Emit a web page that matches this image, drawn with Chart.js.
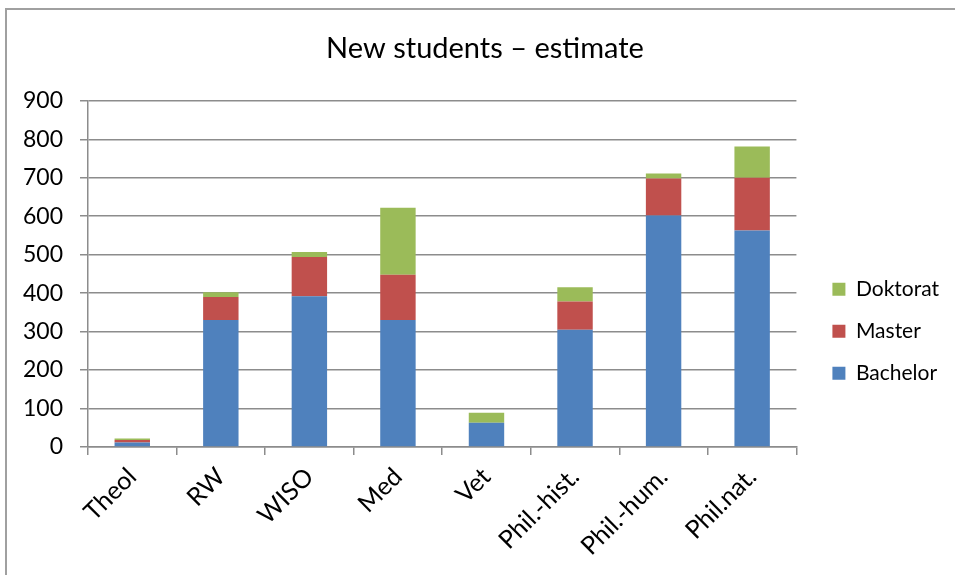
<!DOCTYPE html>
<html>
<head>
<meta charset="utf-8">
<title>New students – estimate</title>
<script src="https://cdn.jsdelivr.net/npm/chart.js@4"></script>
<style>
  body { margin: 0; background: #fff; }
  #frame {
    position: absolute; left: 5px; top: 8px; width: 960px; height: 580px;
    border: 2px solid #a0a0a0;
  }
  #chart { position: absolute; left: 0; top: 0; }
</style>
</head>
<body>
<div id="frame"></div>
<canvas id="chart" width="955" height="575"></canvas>

<script>
  // Werte
  const faculties = ['Theol', 'RW', 'WISO', 'Med', 'Vet', 'Phil.-hist.', 'Phil.-hum.', 'Phil.nat.'];
  const bachelor = [12, 330, 392, 330, 63, 305, 602, 563];
  const master = [6, 60, 102, 118, 0, 73, 96, 137];
  const doktorat = [4, 12, 13, 174, 26, 37, 13, 81];
  const yTicks = [0, 100, 200, 300, 400, 500, 600, 700, 800, 900];

  const gridColor = '#8c8c8c';
  const fontFamily = 'Lato, "Open Sans", sans-serif';

  const ctx = document.getElementById('chart').getContext('2d');
  const chart = new Chart(ctx, {
    type: 'bar',
    data: {
      labels: faculties,
      datasets: [
        { label: 'Bachelor', data: bachelor, backgroundColor: '#4f81bd' },
        { label: 'Master', data: master, backgroundColor: '#c0504d' },
        { label: 'Doktorat', data: doktorat, backgroundColor: '#9bbb59' }
      ]
    },
    options: {
      responsive: false,
      animation: false,
      layout: { padding: { left: 21, right: 6, top: 0, bottom: 0 } },
      datasets: { bar: { barPercentage: 0.8, categoryPercentage: 0.5 } },
      plugins: {
        title: {
          display: true,
          text: 'New students – estimate',
          color: '#000',
          font: { family: fontFamily, size: 29, weight: 'normal' },
          padding: { top: 31, bottom: 35 }
        },
        legend: {
          position: 'right',
          reverse: true,
          title: { display: true, text: '', padding: { top: 73 } },
          labels: {
            boxWidth: 13, boxHeight: 13, padding: 21,
            color: '#000',
            font: { family: fontFamily, size: 21 }
          }
        },
        tooltip: { enabled: false }
      },
      scales: {
        x: {
          stacked: true,
          grid: { display: true, drawOnChartArea: false, tickLength: 8, color: gridColor, lineWidth: 1.5 },
          border: { display: true, color: gridColor, width: 1.5 },
          ticks: {
            minRotation: 45, maxRotation: 45, autoSkip: false, padding: 7,
            color: '#000', font: { family: fontFamily, size: 25 }
          },
          afterFit(s) { s.height = 128; }
        },
        y: {
          stacked: true,
          min: 0,
          max: 900,
          afterBuildTicks(s) { s.ticks = yTicks.map(v => ({ value: v })); },
          grid: { color: gridColor, lineWidth: 1.5, tickLength: 8 },
          border: { display: true, color: gridColor, width: 1.5 },
          ticks: { padding: 17, color: '#000', font: { family: fontFamily, size: 23 } },
          afterFit(s) { s.width = 67; }
        },
        // leerer Abstandhalter zwischen Diagramm und Legende
        gap: {
          position: 'right',
          display: true,
          grid: { display: false },
          border: { display: false },
          ticks: { display: false },
          afterFit(s) { s.width = 15; }
        }
      }
    }
  });
</script>
</body>
</html>
